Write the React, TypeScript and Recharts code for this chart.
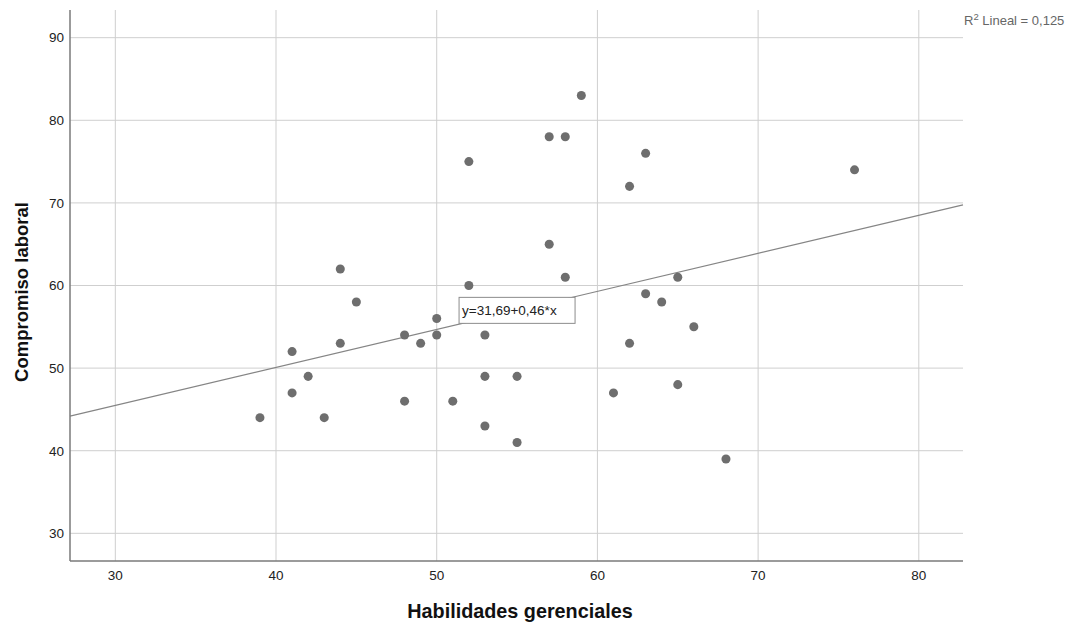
import React from 'react';
import { ScatterChart, Scatter, XAxis, YAxis, ZAxis, CartesianGrid, ReferenceLine, ReferenceDot } from 'recharts';

const habilidades = [39, 41, 41, 42, 43, 44, 44, 45, 48, 48, 49, 50, 50, 51, 52, 52, 53, 53, 53, 55, 55, 57, 57, 58, 58, 59, 61, 62, 62, 63, 63, 64, 65, 65, 66, 68, 76];
const compromiso = [44, 52, 47, 49, 44, 62, 53, 58, 54, 46, 53, 56, 54, 46, 75, 60, 54, 49, 43, 49, 41, 78, 65, 78, 61, 83, 47, 72, 53, 76, 59, 58, 61, 48, 55, 39, 74];
const xTicks = [30, 40, 50, 60, 70, 80];
const yTicks = [30, 40, 50, 60, 70, 80, 90];
const xDomain = [27.18, 82.75];
const yDomain = [26.65, 93.35];
const intercept = 31.69;
const slope = 0.46;
const eqLabel = 'y=31,69+0,46*x';
const r2Label = '0,125';
const xTitle = 'Habilidades gerenciales';
const yTitle = 'Compromiso laboral';

const points = habilidades.map((h, i) => ({ x: h, y: compromiso[i] }));
const fit = (x: number) => intercept + slope * x;
const labelX = 55;

const FONT = '"Liberation Sans", Arial, sans-serif';

const EqBox = (props: any) => {
  const { cx, cy } = props;
  const w = 116;
  const h = 26;
  return (
    <g>
      <rect x={cx - w / 2} y={cy - h / 2} width={w} height={h} fill="#fff" stroke="#8c8c8c" strokeWidth={1} />
      <text x={cx - w / 2 + 3} y={cy + 5} fontSize={13.5} fontFamily={FONT} fill="#222">{eqLabel}</text>
    </g>
  );
};

const scaleOf = (axis: any) => {
  const s = axis && axis.scale;
  return typeof s === 'function' ? s : s && s.map ? (v: number) => s.map(v) : (v: number) => v;
};

export default function App() {
  return (
    <div style={{ position: 'absolute', left: 0, top: 0, width: 1082, height: 628, background: '#fff' }}>
      <ScatterChart width={1082} height={628} margin={{ top: 10, right: 119, bottom: 37, left: 0 }}>
        <CartesianGrid
          stroke="#cfcfcf"
          strokeWidth={1}
          verticalCoordinatesGenerator={({ xAxis }: any) => xTicks.map((t) => scaleOf(xAxis)(t))}
          horizontalCoordinatesGenerator={({ yAxis }: any) => yTicks.map((t) => scaleOf(yAxis)(t))}
        />
        <XAxis
          type="number"
          dataKey="x"
          domain={xDomain}
          ticks={xTicks}
          allowDataOverflow
          height={30}
          tickLine={false}
          tickMargin={3}
          axisLine={{ stroke: '#7a7a7a', strokeWidth: 1.5 }}
          tick={{ fontSize: 13.5, fill: '#222', fontFamily: FONT }}
        />
        <YAxis
          type="number"
          dataKey="y"
          domain={yDomain}
          ticks={yTicks}
          allowDataOverflow
          width={70}
          tickLine={false}
          tickSize={4}
          tickMargin={2}
          axisLine={{ stroke: '#7a7a7a', strokeWidth: 1.5 }}
          tick={{ fontSize: 13.5, fill: '#222', fontFamily: FONT }}
        />
        <ZAxis range={[79, 79]} />
        <ReferenceLine
          segment={[{ x: xDomain[0], y: fit(xDomain[0]) }, { x: xDomain[1], y: fit(xDomain[1]) }]}
          stroke="#858585"
          strokeWidth={1.2}
        />
        <Scatter data={points} fill="#6e6e6e" isAnimationActive={false} />
        <ReferenceDot x={labelX} y={fit(labelX)} shape={EqBox} />
      </ScatterChart>
      <svg width={1082} height={628} style={{ position: 'absolute', left: 0, top: 0, pointerEvents: 'none' }}>
        <text x={520} y={618} textAnchor="middle" fontSize={19.8} fontWeight="bold" fontFamily={FONT} fill="#111">{xTitle}</text>
        <text x={28} y={292} textAnchor="middle" fontSize={18.5} fontWeight="bold" fontFamily={FONT} fill="#111" transform="rotate(-90 28 292)">{yTitle}</text>
        <text x={964} y={25} fontSize={13} fontFamily={FONT} fill="#666">
          R<tspan fontSize={9.5} dy={-5}>2</tspan><tspan dy={5}>{' Lineal = ' + r2Label}</tspan>
        </text>
      </svg>
    </div>
  );
}
